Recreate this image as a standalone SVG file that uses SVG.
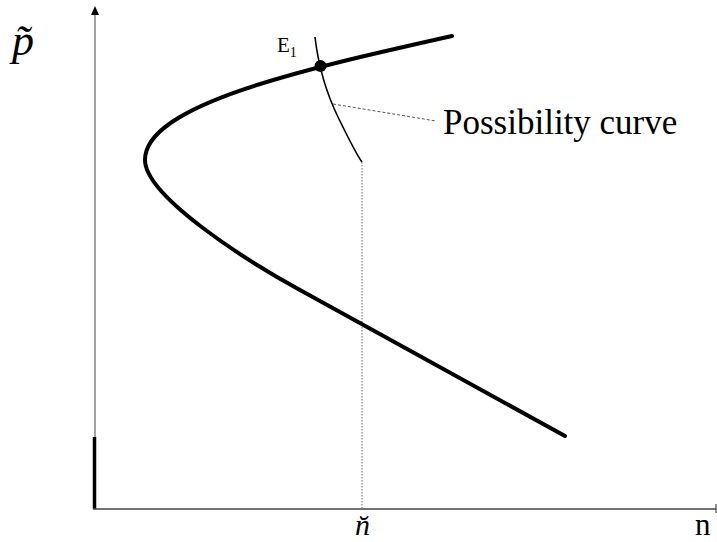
<svg xmlns="http://www.w3.org/2000/svg" width="717" height="542" viewBox="0 0 717 542">
<style>
  text{fill:#000;font-family:"Liberation Serif","Times New Roman",serif}
  .curve{fill:none;stroke:#000;stroke-width:4;stroke-linecap:round;stroke-linejoin:round}
  .thin{fill:none;stroke:#000;stroke-width:1.6}
  .dash{fill:none;stroke:#555;stroke-width:1;stroke-dasharray:3,2}
  .dot{fill:none;stroke:#666;stroke-width:1;stroke-dasharray:1.5,1.5}
</style>
<rect width="717" height="542" fill="#fff"/>
<g id="axes">
  <line x1="95" y1="14" x2="95" y2="509" stroke="#8a8a8a" stroke-width="1.6"/>
  <polygon points="95,6 91,15 99,15" fill="#000"/>
  <line x1="94.5" y1="437" x2="94.5" y2="509" stroke="#000" stroke-width="3.5"/>
  <line x1="93" y1="509" x2="716" y2="509" stroke="#444" stroke-width="1.6"/>
  <line x1="716" y1="504" x2="716" y2="513" stroke="#444" stroke-width="1.2"/>
  <text x="12" y="55" font-size="44" font-style="italic">p̃</text>
  <text x="355" y="535" font-size="30" font-style="italic">n̆</text>
  <text x="695" y="535" font-size="31">n</text>
</g>
<g id="connectors">
  <path class="dot" d="M362,162 L362,509"/>
  <path class="dash" d="M333,104 L436,121"/>
</g>
<g id="demand-curve">
  <path class="curve" d="M452,36 C300,70 145,105 145,160 C145,195 240,257 300,290 L565,436"/>
</g>
<g id="possibility-curve">
  <path class="thin" d="M315,37 Q320,80 338,117 T362,162"/>
  <text x="443" y="134" font-size="35">Possibility curve</text>
</g>
<g id="E1">
  <circle cx="320.5" cy="66" r="6" fill="#000"/>
  <text x="277" y="52" font-size="21">E<tspan font-size="14" dy="5">1</tspan></text>
</g>
</svg>
